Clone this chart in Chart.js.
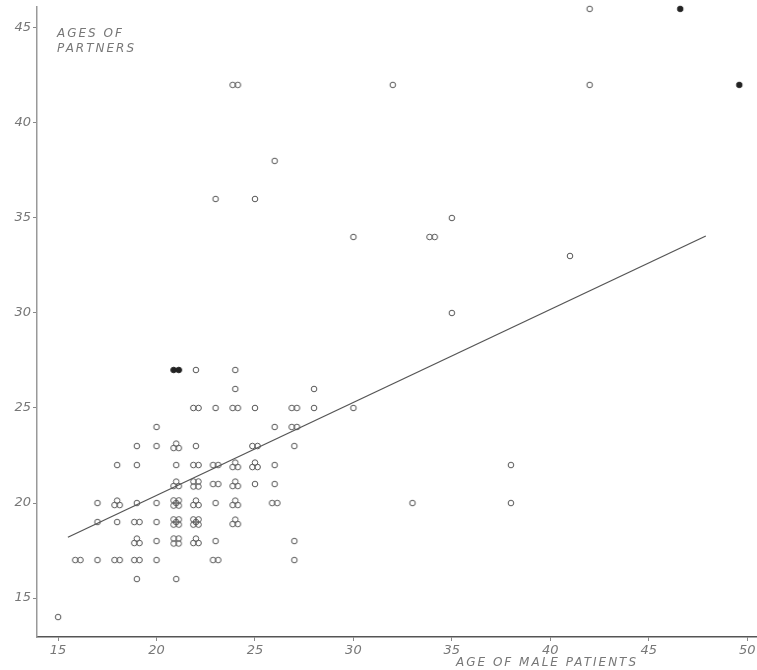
<!DOCTYPE html>
<html>
<head>
<meta charset="utf-8">
<script src="https://cdn.jsdelivr.net/npm/chart.js@4.4.1/dist/chart.umd.min.js"></script>
<style>
html,body{margin:0;padding:0;background:#fff;}
#wrap{width:757px;height:670px;position:relative;}
</style>
</head>
<body>
<div id="wrap"><canvas id="c"></canvas></div>
<script>
// Age of male patient, age of partner, number of coincident cases
const maleAge =    [15,16,17,18,19,20,23,27,19,21,19,20,21,22,23,27,17,18,19,20,21,22,24,17,18,19,20,21,22,23,24,26,33,38,21,22,23,24,25,26,18,19,21,22,23,24,25,26,38,19,20,21,22,25,27,20,26,27,22,23,24,25,27,28,30,24,28,22,24,35,41,30,34,35,23,25,26,24,32,42,42];
const partnerAge = [14,17,17,17,17,17,17,17,16,16,18,18,18,18,18,18,19,19,19,19,19,19,19,20,20,20,20,20,20,20,20,20,20,20,21,21,21,21,21,21,22,22,22,22,22,22,22,22,22,23,23,23,23,23,23,24,24,24,25,25,25,25,25,25,25,26,26,27,27,30,33,34,34,35,36,36,38,42,42,42,46];
const caseCount =  [ 1, 2, 1, 2, 2, 1, 2, 1, 1, 1, 3, 1, 4, 3, 1, 1, 1, 1, 2, 1, 5, 5, 3, 1, 3, 1, 1, 5, 3, 1, 3, 2, 1, 1, 3, 4, 2, 3, 1, 1, 1, 1, 1, 2, 2, 3, 3, 1, 1, 1, 1, 3, 1, 2, 1, 1, 1, 2, 2, 1, 2, 1, 2, 1, 1, 1, 1, 1, 1, 1, 1, 1, 2, 1, 1, 1, 1, 2, 1, 1, 1];
// Solid (filled) marks
const solidMale =    [21, 46.6, 49.6];
const solidPartner = [27, 46, 42];
// Fitted regression line end points
const fitMale =    [15.5, 47.9];
const fitPartner = [18.2, 34.05];
// Axis ticks
const xTicks = [15,20,25,30,35,40,45,50];
const yTicks = [15,20,25,30,35,40,45];

function clusterImage(n, filled){
  const cv = document.createElement('canvas');
  cv.width = 18; cv.height = 18;
  const g = cv.getContext('2d');
  const offs = {
    1:[[0,0]],
    2:[[-2.6,0],[2.6,0]],
    3:[[0,-2.4],[-2.6,2],[2.6,2]],
    4:[[-2.5,-2.5],[2.5,-2.5],[-2.5,2.5],[2.5,2.5]],
    5:[[-2.6,-2.6],[2.6,-2.6],[-2.6,2.6],[2.6,2.6],[0,0]]
  }[n] || [[0,0]];
  g.lineWidth = 1;
  g.strokeStyle = filled ? '#222' : '#555';
  for (const [dx,dy] of offs){
    g.beginPath();
    g.arc(9+dx, 9+dy, 2.8, 0, Math.PI*2);
    if (filled){ g.fillStyle='#222'; g.fill(); }
    g.stroke();
  }
  return cv;
}

const pts = maleAge.map((x,i)=>({x, y: partnerAge[i]}));
const ptImgs = caseCount.map(n=>clusterImage(n,false));
const solidPts = solidMale.map((x,i)=>({x, y: solidPartner[i]}));
const solidImgs = solidMale.map((x,i)=> clusterImage(i===0?2:1, true));
const fitPts = fitMale.map((x,i)=>({x, y: fitPartner[i]}));

const labelPlugin = {
  id:'labels',
  afterDraw(chart){
    const c = chart.ctx;
    c.save();
    c.fillStyle = '#777';
    c.font = 'italic 12px "DejaVu Sans", sans-serif';
    c.letterSpacing = '2px';
    c.textBaseline = 'middle';
    c.textAlign = 'left';
    c.fillText('AGES OF', 57, 34);
    c.fillText('PARTNERS', 57, 49);
    c.fillText('AGE OF MALE PATIENTS', 456, 663);
    c.restore();
  }
};

new Chart(document.getElementById('c'), {
  data: {
    datasets: [
      { type:'scatter', data: pts, pointStyle: ctx => ptImgs[ctx.dataIndex], pointRadius: 6, order: 2, clip: false },
      { type:'scatter', data: solidPts, pointStyle: ctx => solidImgs[ctx.dataIndex], pointRadius: 6, order: 1, clip: false },
      { type:'line', data: fitPts, borderColor:'#555', borderWidth:1.3, pointRadius:0, fill:false, order: 3 }
    ]
  },
  options: {
    responsive: true,
    maintainAspectRatio: false,
    animation: false,
    layout: { padding: { top: 7, left: 0, right: 0, bottom: 0 }, autoPadding: false },
    plugins: { legend:{display:false}, tooltip:{enabled:false} },
    scales: {
      x: {
        type:'linear', min: 13.93, max: 50.5,
        afterBuildTicks: s => { s.ticks = xTicks.map(v=>({value:v})); },
        afterFit: s => { s.height = 33; s.paddingLeft = 0; s.paddingRight = 0; },
        grid: { drawOnChartArea:false, tickLength:4, tickColor:'#888' },
        border: { color:'#555', width:1.5 },
        ticks: { color:'#777', padding:2, font:{ family:'"DejaVu Sans", sans-serif', size:13, style:'italic' } }
      },
      y: {
        type:'linear', min: 12.95, max: 46.1,
        afterBuildTicks: s => { s.ticks = yTicks.map(v=>({value:v})); },
        afterFit: s => { s.width = 37; s.paddingTop = 0; s.paddingBottom = 0; },
        grid: { drawOnChartArea:false, tickLength:4, tickColor:'#888' },
        border: { color:'#999', width:1.5 },
        ticks: { color:'#777', padding:2, font:{ family:'"DejaVu Sans", sans-serif', size:13, style:'italic' } }
      }
    }
  },
  plugins: [labelPlugin]
});
</script>
</body>
</html>
